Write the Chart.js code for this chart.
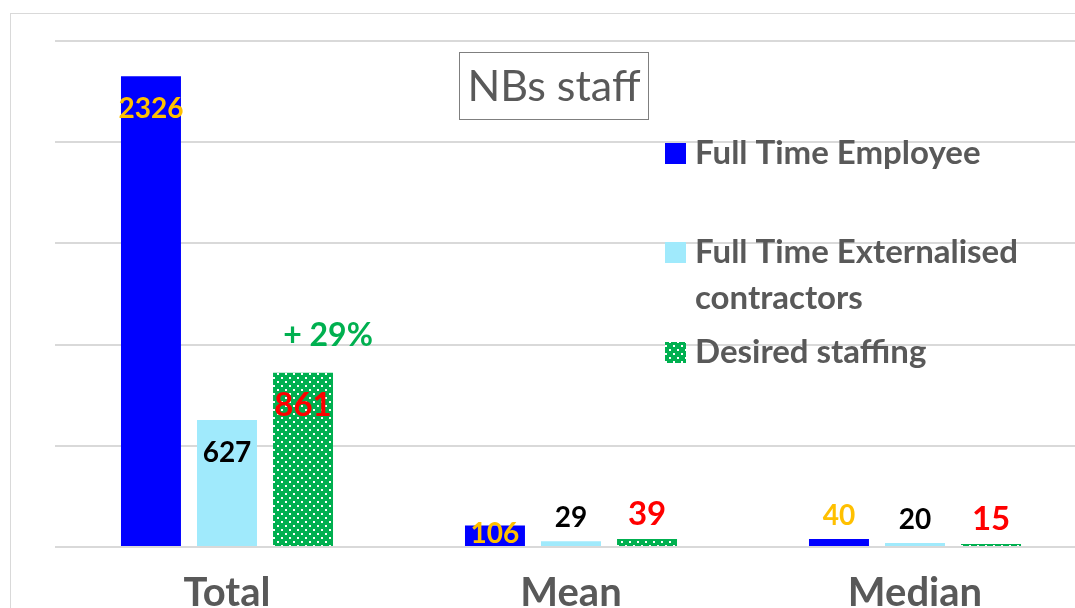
<!DOCTYPE html>
<html>
<head>
<meta charset="utf-8">
<script src="https://cdn.jsdelivr.net/npm/chart.js@4"></script>
<style>
    html, body { margin: 0; padding: 0; background: #fff; overflow: hidden; width: 1075px; height: 608px; }
    #frame { position: absolute; left: 10px; top: 13px; width: 1200px; height: 700px; border: 1.5px solid #d9d9d9; box-sizing: border-box; }
    #nbs-chart { position: absolute; left: 0; top: 0; }
</style>
</head>
<body>
<div id="frame"></div>
<canvas id="nbs-chart" width="1100" height="640"></canvas>
<script>
const categories = ['Total', 'Mean', 'Median'];
const fullTimeEmployee = [2326, 106, 40];
const externalisedContractors = [627, 29, 20];
const desiredStaffing = [861, 39, 15];
const seriesNames = ['Full Time Employee', 'Full Time Externalised contractors', 'Desired staffing'];
const increaseNote = '+ 29%';
const chartTitle = 'NBs staff';

const textGray = '#595959';
const labelColors = ['#FFC000', '#000000', '#FF0000'];
const labelSizes = [28, 28, 33];

function dottedGreen() {
    const tile = document.createElement('canvas');
    tile.width = 8;
    tile.height = 8;
    const c = tile.getContext('2d');
    c.fillStyle = '#00B050';
    c.fillRect(0, 0, 8, 8);
    c.fillStyle = '#ffffff';
    c.fillRect(1, 1, 2, 2);
    c.fillRect(5, 5, 2, 2);
    return document.getElementById('nbs-chart').getContext('2d').createPattern(tile, 'repeat');
}

const greenFill = dottedGreen();
const barColors = ['#0000FF', '#A0EAFC', greenFill];

// value labels, the "+ 29%" note, title box and legend
const decorations = {
    id: 'decorations',
    afterDatasetsDraw(chart) {
        const ctx = chart.ctx;
        ctx.save();
        ctx.textAlign = 'center';
        chart.data.datasets.forEach((ds, i) => {
            chart.getDatasetMeta(i).data.forEach((bar, j) => {
                const h = bar.base - bar.y;
                ctx.font = `bold ${labelSizes[i]}px Lato`;
                ctx.fillStyle = labelColors[i];
                if (h >= 60) {
                    ctx.textBaseline = 'middle';
                    ctx.fillText(ds.data[j], bar.x, bar.y + 33);
                } else if (h >= 15) {
                    ctx.textBaseline = 'middle';
                    ctx.fillText(ds.data[j], bar.x, (bar.y + bar.base) / 2 - 2);
                } else {
                    ctx.textBaseline = 'alphabetic';
                    ctx.fillText(ds.data[j], bar.x, bar.y - 14);
                }
            });
        });

        // increase note above the desired staffing total
        const green = chart.getDatasetMeta(2).data[0];
        ctx.font = 'bold 32px Lato';
        ctx.fillStyle = '#00B050';
        ctx.textBaseline = 'alphabetic';
        ctx.fillText(increaseNote, green.x + 25, green.y - 27);

        // title in a box
        ctx.strokeStyle = '#7f7f7f';
        ctx.lineWidth = 1;
        ctx.strokeRect(459.5, 52.5, 189, 67);
        ctx.font = '43px Lato';
        ctx.fillStyle = textGray;
        ctx.textBaseline = 'middle';
        ctx.fillText(chartTitle, 554, 87);

        // legend
        const rows = [153, 252, 352];
        ctx.textAlign = 'left';
        ctx.font = 'bold 33px Lato';
        chart.data.datasets.forEach((ds, i) => {
            ctx.fillStyle = ds.backgroundColor;
            ctx.fillRect(665, rows[i] - 10, 21, 21);
            ctx.fillStyle = textGray;
            const words = ds.label.split(' ');
            let line = '';
            let y = rows[i];
            words.forEach(w => {
                const test = line ? line + ' ' + w : w;
                if (ctx.measureText(test).width > 370 && line) {
                    ctx.fillText(line, 695, y);
                    line = w;
                    y += 46;
                } else {
                    line = test;
                }
            });
            ctx.fillText(line, 695, y);
        });
        ctx.restore();
    }
};

const chart = new Chart(document.getElementById('nbs-chart'), {
    type: 'bar',
    data: {
        labels: categories,
        datasets: [fullTimeEmployee, externalisedContractors, desiredStaffing].map((values, i) => ({
            label: seriesNames[i],
            data: values,
            backgroundColor: barColors[i],
            borderWidth: 0,
            categoryPercentage: 0.663,
            barPercentage: 0.789
        }))
    },
    options: {
        responsive: false,
        animation: false,
        layout: {padding: {left: 55, right: 13, top: 41, bottom: 9}},
        plugins: {
            legend: {display: false},
            tooltip: {enabled: false}
        },
        scales: {
            x: {
                grid: {display: false},
                border: {display: false},
                ticks: {
                    color: textGray,
                    padding: 14,
                    font: {family: 'Lato', size: 40, weight: 'bold'}
                }
            },
            y: {
                min: 0,
                max: 2500,
                ticks: {display: false, stepSize: 500},
                grid: {color: '#d9d9d9', lineWidth: 2, drawTicks: false},
                border: {display: false}
            }
        }
    },
    plugins: [decorations]
});
</script>
</body>
</html>
